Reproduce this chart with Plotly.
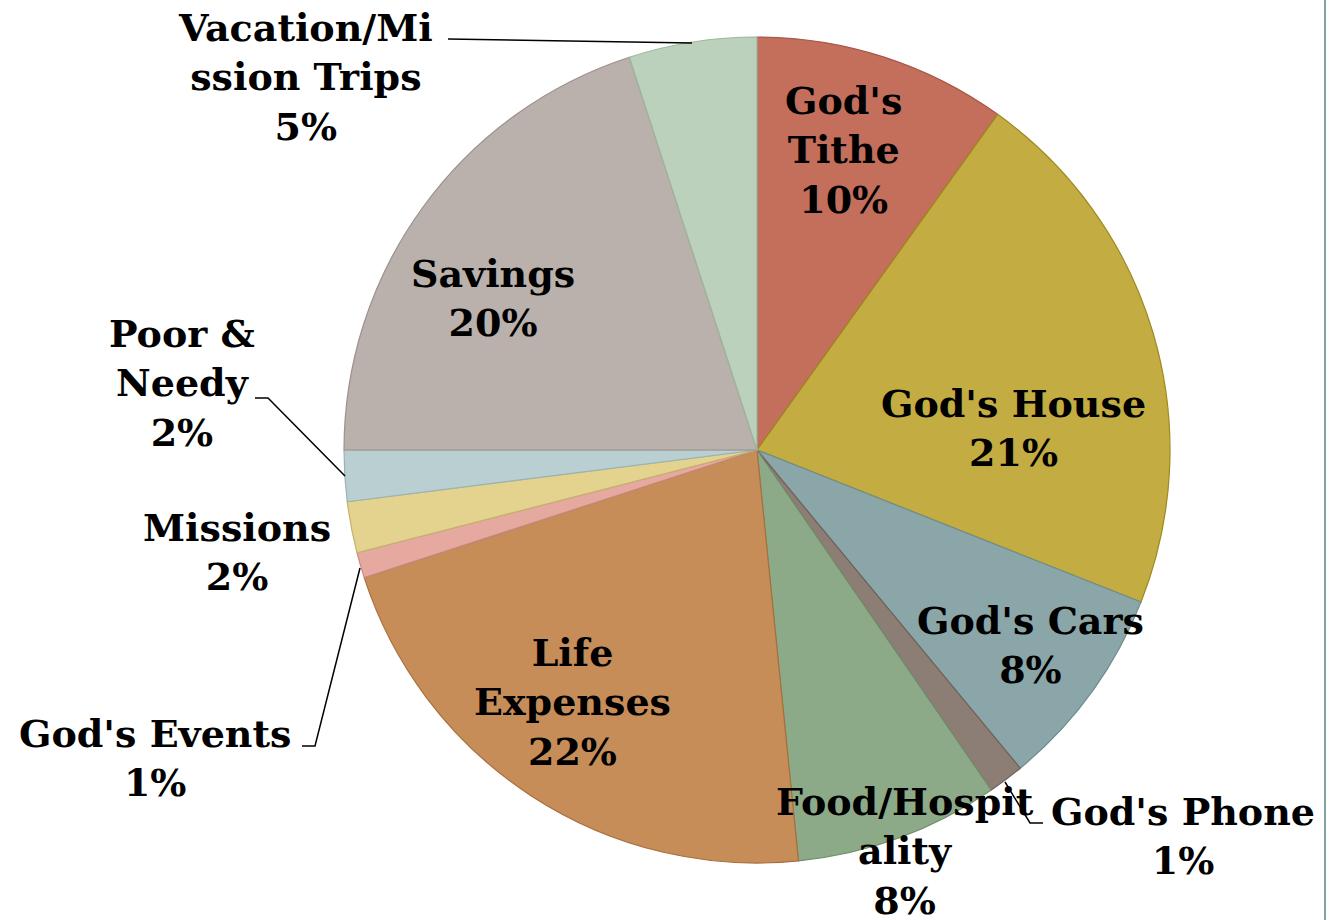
import plotly.graph_objects as go

W, H = 1333, 920

categories = ["God's Tithe", "God's House", "God's Cars", "God's Phone",
              "Food/Hospitality", "Life Expenses", "God's Events", "Missions",
              "Poor & Needy", "Savings", "Vacation/Mission Trips"]
values = [9.9, 21.1, 8.0, 1.4, 8.0, 21.6, 1.0, 2.0, 2.0, 20.0, 5.0]
pct_labels = ["10%", "21%", "8%", "1%", "8%", "22%", "1%", "2%", "2%", "20%", "5%"]
label_text = ["God's<br>Tithe", "God's House", "God's Cars", "God's Phone",
              "Food/Hospit<br>ality", "Life<br>Expenses", "God's Events", "Missions",
              "Poor &<br>Needy", "Savings", "Vacation/Mi<br>ssion Trips"]
fill_colors = ["#C46E5C", "#C3AC42", "#8AA6A8", "#8C7E74", "#8DAA88", "#C68D59",
               "#E6A9A0", "#E3D38F", "#BACFD1", "#BAB1AC", "#BCD1BC"]
line_colors = ["#A9584A", "#9E8A1C", "#6F8C8E", "#6F6158", "#71906C", "#A86F3C",
               "#C98A82", "#C4B26C", "#98B3B5", "#9C918B", "#9DB79D"]

# label placement (pixel centres of the text blocks)
label_pos = [(843, 150), (1013, 428), (1030, 645), (1183, 836), (905, 851),
             (572, 702), (155, 758), (237, 552), (182, 383), (493, 298), (305, 77)]

leaders = [
    [(448, 39), (692, 43)],
    [(255, 398), (268, 398), (345, 476)],
    [(302, 746), (315, 746), (360, 568)],
    [(1005, 782), (1030, 823), (1043, 823)],
]

cx, cy, R = 757, 450, 413


def px(x):
    return x / W


def py(y):
    return 1 - y / H


fig = go.Figure(go.Pie(
    labels=categories,
    values=values,
    sort=False,
    direction="clockwise",
    rotation=0,
    textinfo="none",
    hoverinfo="label+percent",
    marker=dict(colors=fill_colors, line=dict(color=line_colors, width=1.2)),
    domain=dict(x=[px(cx - R), px(cx + R)], y=[py(cy + R), py(cy - R)]),
    showlegend=False,
))

font = dict(family="DejaVu Serif", size=38, color="#000000", weight="bold")
for txt, pct, (x, y) in zip(label_text, pct_labels, label_pos):
    fig.add_annotation(
        x=px(x), y=py(y), xref="paper", yref="paper",
        text=f"<b>{txt}<br>{pct}</b>", showarrow=False,
        xanchor="center", yanchor="middle", align="center", font=font,
    )

for pts in leaders:
    path = "M " + " L ".join(f"{px(a)},{py(b)}" for a, b in pts)
    fig.add_shape(type="path", path=path, xref="paper", yref="paper",
                  line=dict(color="#000000", width=1.5))

fig.add_shape(type="line", x0=px(1325), x1=px(1325), y0=0, y1=1,
              xref="paper", yref="paper", line=dict(color="#82A1A3", width=2))

fig.update_layout(
    width=W, height=H,
    margin=dict(l=0, r=0, t=0, b=0),
    paper_bgcolor="#FFFFFF",
    plot_bgcolor="#FFFFFF",
)

fig.write_html("out.html")
